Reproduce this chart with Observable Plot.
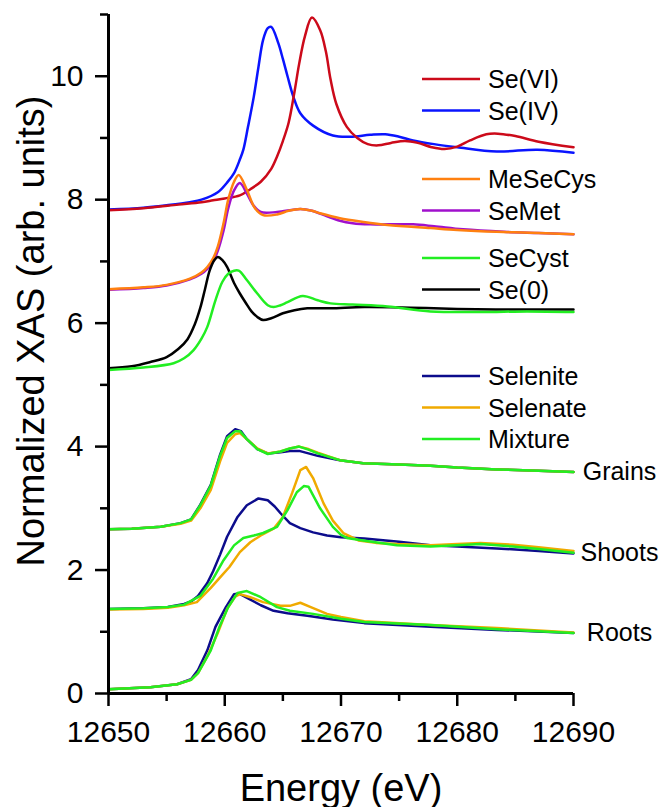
<!DOCTYPE html>
<html><head><meta charset="utf-8">
<script src="https://cdn.jsdelivr.net/npm/d3@7"></script>
<script src="https://cdn.jsdelivr.net/npm/@observablehq/plot@0.6"></script>
<style>
body{margin:0;background:#fff;}
#chart{position:relative;width:662px;height:807px;font-family:"Liberation Sans",Arial,sans-serif;}
#legend{position:absolute;left:0;top:0;pointer-events:none;}
</style></head><body><div id="chart"></div>
<script>
// ---- data: [energy (eV), normalized XAS] ----
const seVI = [[12650,7.83],[12653,7.86],[12656,7.92],[12658,7.96],[12659,7.99],[12660,8.02],[12661.3,8.07],[12662.2,8.17],[12663.1,8.29],[12664,8.5],[12664.5,8.7],[12665,8.95],[12665.5,9.25],[12666,9.75],[12666.4,10.2],[12666.9,10.65],[12667.5,10.95],[12668.2,10.75],[12668.7,10.4],[12669.1,9.95],[12669.6,9.55],[12670.5,9.18],[12671.4,9.0],[12672.3,8.9],[12673.2,8.88],[12674.3,8.92],[12675.5,8.95],[12676.6,8.92],[12677.8,8.85],[12678.9,8.82],[12680,8.86],[12681.1,8.96],[12682.5,9.06],[12683.5,9.07],[12685,9.03],[12687,8.94],[12690,8.85]];
const seIV = [[12650,7.84],[12653,7.87],[12655,7.91],[12657,7.96],[12658,8.0],[12659.4,8.12],[12660.3,8.3],[12660.8,8.43],[12661.3,8.65],[12661.6,8.81],[12662,9.18],[12662.5,9.67],[12662.9,10.15],[12663.3,10.59],[12663.7,10.78],[12664,10.8],[12664.6,10.54],[12665,10.28],[12665.4,10.0],[12665.9,9.67],[12666.5,9.4],[12667.6,9.2],[12669.3,9.04],[12670.8,9.02],[12672.5,9.05],[12673.8,9.06],[12675,9.02],[12676.2,8.96],[12678,8.9],[12680,8.85],[12683.4,8.78],[12686.9,8.81],[12690,8.76]];
const meSeCys = [[12650,6.55],[12653,6.58],[12655,6.62],[12657,6.72],[12658,6.82],[12658.5,6.91],[12659,7.05],[12659.4,7.24],[12659.9,7.62],[12660.3,8.0],[12660.8,8.29],[12661.2,8.40],[12661.9,8.16],[12662.6,7.86],[12663.3,7.75],[12664.5,7.76],[12665.5,7.82],[12666.5,7.85],[12667.5,7.82],[12668.2,7.78],[12669.9,7.70],[12671.9,7.64],[12674,7.59],[12677.7,7.54],[12680,7.51],[12683.4,7.48],[12687,7.46],[12690,7.44]];
const seMet = [[12650,6.54],[12653,6.57],[12655,6.61],[12657,6.71],[12658,6.80],[12658.5,6.88],[12659,7.0],[12659.4,7.17],[12659.9,7.5],[12660.3,7.86],[12660.8,8.15],[12661.3,8.27],[12661.9,8.1],[12662.5,7.9],[12663.1,7.8],[12664.5,7.80],[12666.5,7.85],[12667.5,7.82],[12668.8,7.73],[12669.9,7.66],[12671,7.62],[12672.5,7.6],[12674,7.6],[12676.2,7.6],[12678,7.57],[12680.5,7.52],[12684,7.48],[12687,7.46],[12690,7.44]];
const seCyst = [[12650,5.24],[12653,5.28],[12655.6,5.35],[12656.5,5.43],[12657.3,5.56],[12658,5.75],[12658.5,5.94],[12659.2,6.37],[12659.8,6.67],[12660.3,6.8],[12660.8,6.85],[12661.2,6.85],[12661.9,6.70],[12662.8,6.48],[12663.7,6.29],[12664.2,6.26],[12664.8,6.29],[12665.4,6.34],[12666.7,6.44],[12668,6.37],[12669.1,6.32],[12671,6.3],[12674,6.27],[12677.7,6.19],[12682,6.18],[12686,6.19],[12690,6.18]];
const se0 = [[12650,5.27],[12652,5.30],[12653.6,5.37],[12655,5.45],[12656,5.58],[12656.8,5.74],[12657.4,5.97],[12657.9,6.25],[12658.3,6.55],[12658.7,6.85],[12659.1,7.02],[12659.4,7.07],[12659.8,7.02],[12660.2,6.91],[12660.8,6.65],[12661.3,6.48],[12661.8,6.33],[12662.3,6.19],[12662.8,6.1],[12663.3,6.05],[12664,6.08],[12665,6.16],[12666,6.21],[12667.1,6.24],[12669.1,6.24],[12672,6.26],[12676,6.25],[12680,6.23],[12685,6.22],[12690,6.22]];

const grainsSelenite = [[12650,2.66],[12652,2.67],[12654.5,2.70],[12656.2,2.76],[12657.1,2.82],[12657.9,3.06],[12658.8,3.38],[12659.6,3.87],[12660.2,4.17],[12660.9,4.28],[12661.4,4.25],[12661.9,4.12],[12662.8,3.96],[12663.7,3.89],[12664.8,3.91],[12665.6,3.93],[12666.4,3.93],[12668,3.85],[12669.9,3.78],[12671.9,3.73],[12675,3.71],[12677.7,3.69],[12680,3.66],[12683.4,3.63],[12687,3.61],[12690,3.59]];
const grainsSelenate = [[12650,2.66],[12652,2.67],[12654.5,2.70],[12656.2,2.75],[12657.1,2.80],[12657.9,3.0],[12658.8,3.3],[12659.6,3.76],[12660.2,4.06],[12660.9,4.2],[12661.3,4.22],[12661.9,4.12],[12662.8,3.97],[12663.7,3.89],[12664.8,3.92],[12665.6,3.97],[12666.4,4.0],[12667.2,3.96],[12668,3.90],[12669.9,3.78],[12671.9,3.73],[12675,3.71],[12677.7,3.69],[12680,3.66],[12683.4,3.63],[12687,3.61],[12690,3.59]];
const grainsMixture = [[12650,2.66],[12652,2.67],[12654.5,2.70],[12656.2,2.76],[12657.1,2.82],[12657.9,3.05],[12658.8,3.37],[12659.6,3.85],[12660.2,4.14],[12660.9,4.25],[12661.3,4.25],[12661.9,4.12],[12662.8,3.96],[12663.7,3.88],[12664.8,3.92],[12665.6,3.97],[12666.4,4.0],[12667.2,3.95],[12668,3.89],[12669.9,3.78],[12671.9,3.73],[12675,3.71],[12677.7,3.69],[12680,3.66],[12683.4,3.63],[12687,3.61],[12690,3.59]];

const shootsSelenite = [[12650,1.37],[12653,1.38],[12655.1,1.40],[12656.5,1.45],[12657.1,1.49],[12657.7,1.58],[12658.5,1.79],[12659,1.98],[12659.6,2.25],[12660.2,2.54],[12661.1,2.86],[12661.9,3.05],[12662.9,3.16],[12663.7,3.13],[12664.3,3.03],[12664.8,2.92],[12665.6,2.76],[12666.5,2.68],[12667.6,2.61],[12668.8,2.56],[12670,2.53],[12672,2.51],[12675,2.46],[12677.7,2.40],[12680,2.38],[12683.4,2.35],[12687,2.31],[12690,2.27]];
const shootsSelenate = [[12650,1.36],[12653,1.37],[12655.1,1.39],[12656.5,1.43],[12657.6,1.48],[12658.8,1.71],[12659.6,1.88],[12660.4,2.05],[12661.3,2.29],[12662.2,2.45],[12663.1,2.56],[12664.2,2.67],[12665,2.86],[12665.8,3.25],[12666.5,3.62],[12667,3.67],[12667.6,3.49],[12668.5,3.08],[12669.3,2.8],[12670.2,2.6],[12671.5,2.48],[12673,2.44],[12674.8,2.42],[12677.7,2.40],[12680,2.42],[12682,2.44],[12684.8,2.41],[12687,2.37],[12690,2.31]];
const shootsMixture = [[12650,1.37],[12653,1.38],[12655.1,1.40],[12656.5,1.44],[12657.9,1.58],[12659,1.86],[12659.9,2.16],[12660.8,2.40],[12661.6,2.52],[12662.5,2.56],[12663.3,2.60],[12664.5,2.70],[12665.4,2.97],[12666.2,3.26],[12666.8,3.36],[12667.2,3.35],[12668.2,3.0],[12669.3,2.70],[12670,2.57],[12670.5,2.52],[12671.9,2.48],[12674.8,2.40],[12677.7,2.38],[12680,2.40],[12682,2.42],[12684.8,2.38],[12687,2.34],[12690,2.28]];

const rootsSelenite = [[12650,0.07],[12653.6,0.10],[12655.9,0.15],[12657.1,0.23],[12657.7,0.38],[12658.5,0.70],[12659.2,1.08],[12660.1,1.40],[12660.8,1.61],[12661.2,1.62],[12662,1.54],[12663.1,1.43],[12664.2,1.34],[12665.4,1.30],[12667.1,1.26],[12669.3,1.20],[12672,1.14],[12677.7,1.08],[12683.4,1.03],[12690,0.98]];
const rootsSelenate = [[12650,0.07],[12653.6,0.10],[12655.9,0.15],[12657.1,0.22],[12657.7,0.33],[12658.5,0.6],[12659.4,0.98],[12660.2,1.37],[12660.9,1.57],[12661.3,1.61],[12662.2,1.56],[12663.3,1.48],[12664.8,1.42],[12665.6,1.42],[12666.5,1.47],[12667.4,1.40],[12668.8,1.29],[12670,1.24],[12672,1.17],[12677.7,1.11],[12683.4,1.06],[12690,0.99]];
const rootsMixture = [[12650,0.07],[12653.6,0.10],[12655.9,0.15],[12657.1,0.22],[12657.7,0.33],[12658.8,0.70],[12659.5,1.06],[12660.3,1.40],[12661.1,1.63],[12661.9,1.66],[12663.1,1.56],[12664.5,1.40],[12665.6,1.34],[12667.6,1.29],[12670,1.21],[12672,1.16],[12677.7,1.11],[12683.4,1.04],[12690,0.98]];

const legendNames = ["Se(VI)","Se(IV)","MeSeCys","SeMet","SeCyst","Se(0)","Selenite","Selenate","Mixture"];
const groupLabels = ["Grains","Shoots","Roots"];
const xMajorTicks = [12650,12660,12670,12680,12690];
const xMinorTicks = [12655,12665,12675,12685];
const yMajorTicks = [0,2,4,6,8,10];
const yMinorTicks = [1,3,5,7,9,11];

// ---- styling ----
const colors = {
  "Se(VI)":"#cc0a1a","Se(IV)":"#0a14ff","MeSeCys":"#ff8010","SeMet":"#a010cc",
  "SeCyst":"#22ee22","Se(0)":"#000000","Selenite":"#0c0c8c","Selenate":"#f0aa00","Mixture":"#22ee22"
};
// draw order (later on top)
const series = [
  {name:"Se(IV)", data:seIV, curve:"catmull-rom"},
  {name:"Se(VI)", data:seVI, curve:"catmull-rom"},
  {name:"SeMet", data:seMet, curve:"catmull-rom"},
  {name:"MeSeCys", data:meSeCys, curve:"catmull-rom"},
  {name:"Se(0)", data:se0, curve:"catmull-rom"},
  {name:"SeCyst", data:seCyst, curve:"catmull-rom"},
  {name:"Selenite", data:grainsSelenite, curve:"linear"},
  {name:"Selenate", data:grainsSelenate, curve:"linear"},
  {name:"Mixture", data:grainsMixture, curve:"linear"},
  {name:"Selenite", data:shootsSelenite, curve:"linear"},
  {name:"Selenate", data:shootsSelenate, curve:"linear"},
  {name:"Mixture", data:shootsMixture, curve:"linear"},
  {name:"Selenite", data:rootsSelenite, curve:"linear"},
  {name:"Selenate", data:rootsSelenate, curve:"linear"},
  {name:"Mixture", data:rootsMixture, curve:"linear"}
];
const groupEnds = [grainsMixture, shootsMixture, rootsMixture].map((arr, i) => ({
  label: groupLabels[i], e: arr[arr.length-1][0], v: arr[arr.length-1][1]
}));

const FONT = "Liberation Sans, Arial, sans-serif";
const plot = Plot.plot({
  width: 662, height: 807,
  marginLeft: 108, marginRight: 89, marginTop: 14, marginBottom: 114,
  style: {fontFamily: FONT, color: "#000", background: "#fff", overflow: "visible"},
  x: {domain: [12650, 12690]},
  y: {domain: [0, 11]},
  marks: [
    ...series.map(s => Plot.line(s.data, {x: d => d[0], y: d => d[1], stroke: colors[s.name], strokeWidth: 2.5, curve: s.curve})),
    Plot.text(groupEnds, {x: "e", y: "v", text: "label", dx: 46, textAnchor: "middle", lineAnchor: "middle", fontSize: 25, fill: "#000"}),
    Plot.ruleX([12650], {strokeWidth: 3}),
    Plot.ruleY([0], {strokeWidth: 3}),
    Plot.axisX({ticks: xMajorTicks, tickSize: 13, tickPadding: 14, fontSize: 30, label: null, strokeWidth: 2.5, tickFormat: d => String(d)}),
    Plot.axisX({ticks: xMinorTicks, tickSize: 8, tickFormat: () => "", label: null, strokeWidth: 2.5}),
    Plot.axisY({ticks: yMajorTicks, tickSize: 13, tickPadding: 12, fontSize: 30, label: null, strokeWidth: 2.5, tickFormat: d => String(d)}),
    Plot.axisY({ticks: yMinorTicks, tickSize: 8, tickFormat: () => "", label: null, strokeWidth: 2.5}),
    Plot.text(["Energy (eV)"], {text: d => d, frameAnchor: "bottom", dy: 107, lineAnchor: "bottom", fontSize: 38}),
    Plot.text(["Normalized XAS (arb. units)"], {text: d => d, frameAnchor: "left", textAnchor: "middle", rotate: -90, dx: -65, dy: -23, lineAnchor: "bottom", fontSize: 38})
  ]
});
const chart = document.getElementById("chart");
chart.appendChild(plot);

// ---- legend overlay ----
const groupSizes = [2, 2, 2, 3];
const groupTops = [79, 179, 258, 376];
const rowStep = 31.5;
const legendRows = [];
let k = 0;
groupSizes.forEach((n, g) => { for (let i = 0; i < n; i++) legendRows.push({name: legendNames[k++], y: groupTops[g] + i * rowStep}); });
const svg = d3.select(chart).append("svg").attr("id", "legend").attr("width", 662).attr("height", 807);
const item = svg.selectAll("g").data(legendRows).join("g");
item.append("line").attr("x1", 422).attr("x2", 480).attr("y1", d => d.y).attr("y2", d => d.y)
  .attr("stroke", d => colors[d.name]).attr("stroke-width", 2.5);
item.append("text").attr("x", 488).attr("y", d => d.y + 9).attr("font-family", FONT).attr("font-size", 25)
  .attr("fill", "#000").text(d => d.name);
</script></body></html>
